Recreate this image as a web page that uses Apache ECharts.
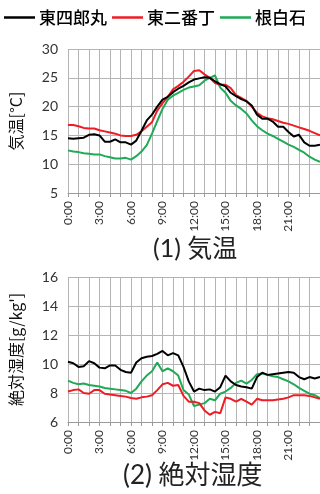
<!DOCTYPE html>
<html>
<head>
<meta charset="utf-8">
<script src="https://cdn.jsdelivr.net/npm/echarts@6/dist/echarts.min.js"></script>
<style>
  html, body { margin: 0; padding: 0; background: #fff; }
  #chart { width: 320px; height: 494px; }
</style>
</head>
<body>
<div id="chart"></div>
<script>
// Half-hourly readings over one day (hours since midnight)
const hours = [0,0.5,1,1.5,2,2.5,3,3.5,4,4.5,5,5.5,6,6.5,7,7.5,8,8.5,9,9.5,10,10.5,11,11.5,
  12,12.5,13,13.5,14,14.5,15,15.5,16,16.5,17,17.5,18,18.5,19,19.5,20,20.5,21,21.5,22,22.5,23,23.5,24];

const stationNames = ['東四郎丸', '東二番丁', '根白石'];
const stationColors = ['#000000', '#ee1c24', '#1faa55'];

// (1) Air temperature [°C]
const tempHigashiShirouMaru = [14.5,14.4,14.5,14.6,15.1,15.2,15.0,13.9,13.9,14.3,13.8,13.8,13.4,14.1,15.8,17.6,18.6,20.0,21.2,21.7,
  22.5,23.1,23.6,24.2,24.7,24.9,25.1,25.0,24.4,23.9,23.5,22.4,21.8,21.3,20.9,20.2,18.6,17.9,17.9,17.4,
  16.5,16.5,15.6,14.8,15.1,13.8,13.2,13.2,13.4];
const tempHigashiNibanCho = [16.8,16.8,16.6,16.3,16.2,16.2,15.9,15.7,15.5,15.3,15.0,14.9,14.9,15.1,15.7,16.5,17.3,19.3,20.6,21.7,
  23.0,23.6,24.3,25.2,26.2,26.3,25.6,25.0,24.1,23.8,23.8,23.2,22.0,21.5,21.0,20.0,18.9,18.3,18.0,17.8,
  17.5,17.2,17.0,16.7,16.4,16.1,15.8,15.4,15.0];
const tempNenoshiroishi = [12.4,12.2,12.1,11.9,11.8,11.7,11.7,11.4,11.2,11.0,11.0,11.1,10.8,11.4,12.2,13.3,15.3,17.5,19.6,21.2,
  21.9,22.4,22.9,23.3,23.5,23.7,24.5,25.0,25.4,23.3,22.4,21.0,20.2,19.6,18.8,17.6,16.6,15.9,15.3,14.9,
  14.4,13.9,13.4,13.0,12.5,12.0,11.3,10.8,10.4];

// (2) Absolute humidity [g/kg']
const humHigashiShirouMaru = [10.15,10.05,9.8,9.85,10.2,10.05,9.75,9.7,9.9,9.9,9.6,9.45,9.4,10.1,10.4,10.5,10.55,10.7,10.9,10.6,
  10.75,10.6,9.8,8.8,8.1,8.3,8.2,8.25,8.1,8.4,9.2,8.8,8.55,8.45,8.4,8.3,9.1,9.4,9.25,9.3,
  9.35,9.4,9.45,9.4,9.1,8.95,9.1,9.0,9.1];
const humHigashiNibanCho = [8.1,8.2,8.25,8.0,7.95,8.2,8.2,7.95,7.9,7.85,7.8,7.75,7.65,7.6,7.7,7.75,7.85,8.2,8.6,8.7,
  8.5,8.55,7.8,7.4,7.4,7.3,6.8,6.5,6.7,6.6,7.7,7.6,7.4,7.6,7.4,7.2,7.6,7.5,7.5,7.5,
  7.55,7.6,7.7,7.85,7.85,7.85,7.8,7.7,7.6];
const humNenoshiroishi = [8.85,8.7,8.6,8.65,8.55,8.5,8.45,8.35,8.3,8.25,8.2,8.15,8.0,8.3,8.8,9.2,9.5,10.1,9.5,9.7,
  9.5,9.2,8.2,7.9,7.1,7.2,7.3,7.6,7.5,7.95,8.1,8.35,8.7,8.85,8.65,8.9,9.3,9.35,9.25,9.15,
  9.1,8.95,8.8,8.6,8.35,8.15,7.95,7.85,7.65];

const tempSeries = [tempHigashiShirouMaru, tempHigashiNibanCho, tempNenoshiroishi];
const humSeries = [humHigashiShirouMaru, humHigashiNibanCho, humNenoshiroishi];

const titles = ['(1) 気温', '(2) 絶対湿度'];
const yNames = ['気温[°C]', "絶対湿度[g/kg']"];

const FONT = "Lato, 'Noto Sans CJK JP', sans-serif";
const CJK = "'Noto Sans CJK JP', sans-serif";
const gridColor = '#b4b4b4';

function pairs(values) {
  return hours.map((h, i) => [h, values[i]]);
}

function xAxis(gridIndex) {
  return {
    type: 'value', gridIndex, min: 0, max: 24, interval: 1,
    axisLine: { show: true, lineStyle: { color: '#9a9a9a', width: 1 } },
    axisTick: { show: true, length: 4, lineStyle: { color: '#9a9a9a' } },
    splitLine: { show: true, lineStyle: { color: gridColor, width: 1 } },
    axisLabel: {
      rotate: 90, margin: 8, fontSize: 12, color: '#333', fontFamily: FONT,
      formatter: v => (v % 3 === 0 && v < 24) ? v + ':00' : ''
    }
  };
}

function yAxis(gridIndex, min, max, interval, name) {
  return {
    type: 'value', gridIndex, min, max, interval,
    name, nameLocation: 'middle', nameGap: 44, nameRotate: 90,
    nameTextStyle: { fontSize: 16, color: '#111', fontFamily: CJK },
    axisLine: { show: false }, axisTick: { show: false },
    splitLine: { show: true, lineStyle: { color: gridColor, width: 1 } },
    axisLabel: { fontSize: 14, color: '#333', margin: 10, fontFamily: FONT }
  };
}

function lines(data, axisIndex) {
  return data.map((vals, k) => ({
    name: stationNames[k], type: 'line',
    xAxisIndex: axisIndex, yAxisIndex: axisIndex,
    data: pairs(vals), symbol: 'none', smooth: false,
    lineStyle: { color: stationColors[k], width: 2 },
    itemStyle: { color: stationColors[k] },
    z: 3 - k
  }));
}

const chart = echarts.init(document.getElementById('chart'), null, { renderer: 'canvas' });
chart.setOption({
  animation: false,
  backgroundColor: '#fff',
  legend: {
    data: stationNames, left: 4, top: 4, width: 316, padding: [5, 0, 5, 0],
    icon: 'rect', itemWidth: 31, itemHeight: 2.5, itemGap: 5,
    textStyle: { fontSize: 17, color: '#000', fontWeight: 500, fontFamily: CJK, padding: [0, 0, 0, -1] }
  },
  grid: [
    { left: 64, top: 49, width: 258, height: 144 },
    { left: 64, top: 277, width: 258, height: 145 }
  ],
  xAxis: [xAxis(0), xAxis(1)],
  yAxis: [
    yAxis(0, 5, 30, 5, yNames[0]),
    yAxis(1, 6, 16, 2, yNames[1])
  ],
  graphic: [
    { type: 'text', left: 153, top: 236, style: { text: titles[0], fontSize: 25, fill: '#222', fontFamily: FONT } },
    { type: 'text', left: 123, top: 463, style: { text: titles[1], fontSize: 26, fill: '#222', fontFamily: FONT } }
  ],
  series: [...lines(tempSeries, 0), ...lines(humSeries, 1)]
});
</script>
</body>
</html>
